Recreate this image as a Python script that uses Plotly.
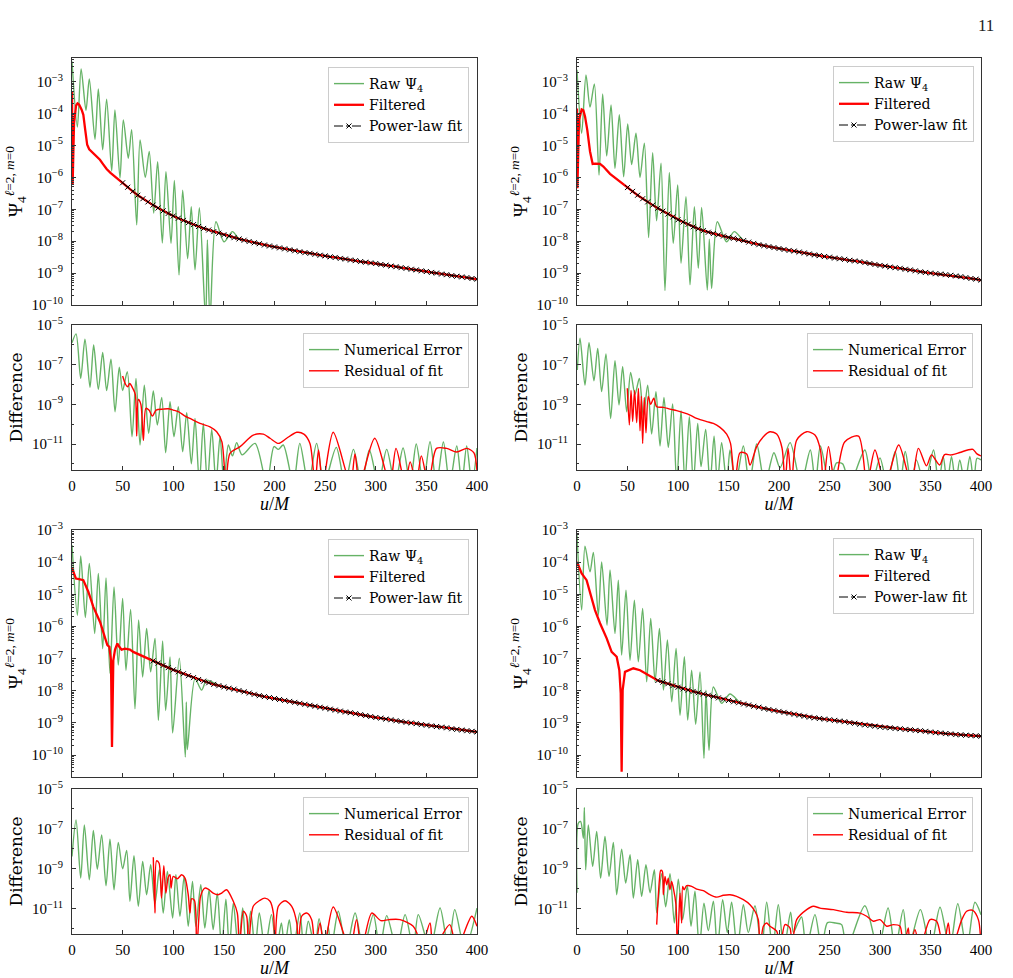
import plotly.graph_objects as go

W, H = 1013, 978

# ---- data (y values are log10 of the curve) ----
fit_u_a = list(range(50, 405, 5))
fit_u_b = list(range(80, 405, 5))

# top-left panel
raw_tl = [(0, -2.37), (5.3, -4.42), (9.0, -2.60), (13.8, -3.9), (17.1, -2.92), (22.7, -4.81),
          (26.0, -3.23), (30.3, -5.14), (34.2, -3.55), (39.2, -5.80), (42.4, -3.89), (47.4, -6.02),
          (50.7, -4.20), (55.6, -5.4), (58.9, -4.51), (63.9, -7.49), (67.2, -4.83), (72.4, -6.0),
          (76.3, -5.19), (80.7, -7.12), (84.6, -5.51), (89.2, -8.06), (92.8, -5.82), (97.8, -8.07),
          (101.1, -6.10), (105.7, -9.06), (109.3, -6.40), (114.2, -8.55), (117.8, -6.92), (121.5, -8.90),
          (125.8, -6.95), (132.0, -10.5), (133.7, -7.96), (136.3, -10.5), (142.2, -7.39), (150.1, -8.02),
          (158.4, -7.70), (165, -7.93)]
filt_tl = [(0, -3.31), (0.6, -6.24), (2.0, -4.30), (4.0, -3.75), (5.4, -3.68), (7.0, -3.72),
           (9.5, -3.88), (11.2, -4.04), (13.0, -4.50), (15.0, -4.98), (17.0, -5.12), (20.0, -5.22),
           (22.7, -5.30), (27.6, -5.45), (31.0, -5.60), (34.2, -5.74), (38.0, -5.86), (42.4, -5.98),
           (46.0, -6.07)]
fit_tl = [-6.17, -6.31, -6.44, -6.56, -6.67, -6.77, -6.87, -6.96, -7.05, -7.13,
          -7.21, -7.28, -7.35, -7.42, -7.48, -7.54, -7.60, -7.65, -7.70, -7.75,
          -7.80, -7.84, -7.89, -7.93, -7.97, -8.01, -8.05, -8.08, -8.12, -8.15,
          -8.18, -8.21, -8.24, -8.27, -8.30, -8.33, -8.36, -8.38, -8.41, -8.44,
          -8.46, -8.49, -8.51, -8.54, -8.56, -8.59, -8.61, -8.64, -8.66, -8.68,
          -8.70, -8.73, -8.75, -8.78, -8.80, -8.83, -8.85, -8.88, -8.90, -8.93,
          -8.95, -8.98, -9.00, -9.03, -9.05, -9.08, -9.10, -9.12, -9.14, -9.17,
          -9.19]
err_tl = [(0, -5.9), (4, -5.45), (8.6, -7.69), (12.8, -5.72), (17.8, -8.14), (21.4, -6.01),
          (26, -8.24), (30.3, -6.39), (34.2, -8.31), (38.5, -6.73), (42.5, -9.37), (46.7, -7.13),
          (50, -8.3), (54.6, -7.35), (59.3, -10.63), (63.2, -7.69), (67.2, -11.05), (71.4, -8.03),
          (75.7, -10.46), (80.3, -8.33), (84.3, -10.04), (88.6, -8.65), (92.5, -11.44), (96.8, -8.87),
          (100.7, -10.63), (105, -9.12), (109.3, -11.39), (113.3, -9.42), (117.9, -12.0), (121.5, -9.71),
          (125.8, -13), (129.7, -9.96), (133.7, -13), (138, -10.26), (142.2, -13), (146.2, -10.63),
          (150.1, -13), (154.4, -11.05), (158.5, -11.6), (162.6, -10.93), (168, -11.55), (180.8, -10.97),
          (192.3, -13), (199.5, -11.13), (203.8, -11.27), (208.7, -11.05), (218.6, -13), (225, -10.97),
          (233.4, -13), (241.6, -10.97), (249, -13), (261, -11.17), (269.6, -13), (278, -11.27),
          (286, -13), (293.7, -11.3), (302.6, -13), (310.8, -11.27), (319, -13), (327, -11.2),
          (334, -13), (340, -11.0), (347, -13), (353.6, -10.88), (360, -13), (366.8, -10.9),
          (373, -13), (380, -11.1), (385, -13), (389.8, -11.1), (395, -13), (400, -11.2)]
res_tl = [(50, -7.57), (53, -8.0), (55, -8.11), (57, -7.95), (60, -8.19), (62.5, -8.5),
          (63.9, -10.6), (65.5, -8.75), (68, -9.0), (70.5, -10.83), (73, -9.2), (76, -9.29),
          (79.5, -9.59), (83, -9.29), (90, -9.24), (95, -9.22), (100, -9.29), (105, -9.37),
          (111.6, -9.59), (116.5, -9.71), (126.4, -9.96), (136.3, -10.13), (142.9, -10.38), (148, -10.88),
          (152, -13), (156, -11.47), (166, -11.13), (179, -10.55), (189, -10.50), (195.6, -10.71),
          (204, -10.97), (212, -10.71), (222, -10.41), (229, -10.5), (235, -10.97), (240, -13),
          (243.5, -11.3), (247.6, -13), (258, -10.41), (275, -13), (279.5, -11.5), (284, -13),
          (299, -10.71), (314, -13), (320, -11.22), (329, -13), (334, -11.9), (340, -13),
          (345, -11.6), (352, -13), (360, -11.22), (370, -11.22), (380, -11.4), (390, -11.22),
          (397, -11.45), (400, -12.4)]

# top-right panel
raw_tr = [(0, -2.63), (4.6, -4.62), (8.9, -2.79), (12.9, -3.8), (17.2, -3.07), (21.8, -5.93),
          (25.4, -3.39), (29.4, -5.33), (33.7, -3.73), (37.6, -5.72), (41.9, -4.04), (46.2, -5.98),
          (50.2, -4.33), (54.1, -5.6), (58.4, -4.62), (62.4, -6.0), (66.7, -4.93), (70.9, -7.89),
          (74.9, -5.23), (78.8, -7.36), (83.2, -5.56), (87.1, -9.55), (91.4, -5.85), (95.3, -8.07),
          (99.7, -6.24), (103, -8.69), (107.9, -6.61), (111.9, -9.37), (116.2, -6.92), (120.1, -8.85),
          (123.4, -6.94), (129, -9.53), (131, -7.94), (133.3, -9.48), (138.9, -7.39), (148.1, -8.02),
          (155.7, -7.70), (165, -7.98)]
filt_tr = [(0, -3.84), (0.4, -6.34), (2.0, -4.2), (4.6, -3.87), (6.3, -3.90), (8.0, -4.1),
           (10.2, -4.52), (12.9, -5.19), (15.5, -5.58), (18, -5.57), (22.8, -5.58), (26.1, -5.66),
           (32.7, -5.89), (39.3, -6.06), (45, -6.20)]
fit_tr = [-6.32, -6.44, -6.56, -6.67, -6.77, -6.87, -6.97, -7.06, -7.15, -7.24,
          -7.33, -7.40, -7.47, -7.55, -7.61, -7.67, -7.72, -7.76, -7.80, -7.84,
          -7.88, -7.91, -7.95, -7.98, -8.03, -8.07, -8.11, -8.14, -8.17, -8.20,
          -8.23, -8.26, -8.29, -8.31, -8.34, -8.37, -8.40, -8.43, -8.45, -8.48,
          -8.50, -8.53, -8.55, -8.57, -8.60, -8.62, -8.64, -8.67, -8.70, -8.73,
          -8.76, -8.78, -8.81, -8.83, -8.85, -8.88, -8.90, -8.93, -8.96, -8.98,
          -9.00, -9.02, -9.03, -9.05, -9.07, -9.09, -9.11, -9.14, -9.17, -9.19,
          -9.22]
err_tr = [(0.3, -7.27), (3, -5.67), (7.9, -8.03), (11.9, -5.89), (16.8, -7.81), (20.5, -6.18),
          (24.4, -8.36), (28.7, -6.46), (33.3, -9.71), (37.6, -6.80), (41.6, -9.03), (45.2, -7.10),
          (49.2, -9.37), (53.1, -7.39), (57.4, -8.5), (61.7, -7.69), (65.7, -9.6), (70, -8.03),
          (73.9, -10.5), (78.2, -8.36), (82.2, -11.1), (86.1, -8.65), (90.4, -11.17), (94.7, -8.98),
          (98.7, -13), (103, -9.32), (106.9, -13), (111.2, -9.62), (115.2, -13), (119.5, -9.96),
          (122.8, -12.14), (127.4, -10.26), (131.7, -13), (135.7, -10.6), (139, -13), (143.2, -10.93),
          (148.2, -13), (151.5, -11.3), (157, -13), (164.7, -11.1), (170.6, -13), (177.9, -11.0),
          (186, -13), (195, -11.44), (201, -12.2), (211, -10.93), (221.8, -13), (231, -11.3),
          (236, -13), (241, -11.1), (250, -13), (257, -11.95), (263, -12.0), (270, -13),
          (285, -11.3), (292, -13), (300, -11.7), (307, -13), (315, -11.38), (320, -13),
          (325, -11.38), (331, -13), (336, -11.8), (344, -13), (353, -11.3), (358, -13),
          (362.6, -11.63), (366.5, -13), (370.8, -11.63), (375, -13), (379, -11.8), (384, -13),
          (389, -11.63), (393, -13), (396, -11.72), (400, -11.8)]
res_tr = [(49.8, -8.19), (51.8, -10.04), (53.5, -8.3), (55.1, -9.87), (57, -8.3), (59.1, -9.92),
          (60.8, -8.2), (62.4, -10.33), (63.7, -8.6), (65, -10.97), (66.6, -8.65), (68.3, -10.43),
          (70.5, -8.6), (73, -9.0), (76, -8.69), (78.9, -9.12), (85.5, -9.15), (92, -9.24),
          (98.7, -9.32), (105.3, -9.42), (111.9, -9.54), (118.5, -9.71), (128.4, -9.87), (135, -9.96),
          (141.6, -10.16), (148.2, -10.5), (152, -10.97), (156.4, -13), (161.4, -11.44), (168, -11.5),
          (171.3, -12.06), (177.9, -11.13), (184.5, -10.63), (191, -10.38), (197.7, -10.5), (203, -11.2),
          (206, -13), (209, -11.22), (212.5, -13), (217.5, -10.8), (227.4, -10.38), (235.6, -10.55),
          (241, -11.3), (244, -13), (249, -11.13), (255.4, -13), (265, -10.9), (278.7, -10.6),
          (287, -13), (295, -11.3), (305, -13), (318.5, -11.05), (331, -13), (338, -11.22),
          (346, -12.1), (351, -11.55), (359, -12.06), (364, -11.53), (370.5, -11.55), (379, -11.43),
          (386.8, -11.3), (392, -11.27), (396, -11.5), (400, -11.6)]

# bottom-left panel
raw_bl = [(0, -3.47), (5.3, -5.65), (8.6, -3.81), (13.2, -5.72), (17.1, -4.04), (22.4, -6.22),
          (26, -4.35), (30.3, -6.69), (33.6, -4.49), (37.5, -7.46), (41.5, -4.77), (45.7, -7.20),
          (50, -5.13), (53.3, -7.36), (57.9, -5.47), (62.2, -8.56), (65.8, -5.80), (69.8, -7.57),
          (73.7, -6.06), (77.7, -7.41), (82, -6.37), (85.3, -8.92), (89.5, -6.45), (92.5, -8.61),
          (96.8, -6.95), (99.4, -9.31), (106, -6.99), (111.9, -10.06), (112.9, -8.35), (113.9, -9.83),
          (121.5, -7.62), (128, -7.98), (133, -7.67), (142.9, -7.80)]
filt_bl = [(0, -4.19), (3.9, -4.51), (7, -4.53), (11.2, -4.56), (16.1, -4.92), (21.1, -5.39),
           (27.7, -5.86), (32.6, -6.37), (34.9, -6.58), (36.9, -6.63), (38.5, -7.05), (39.5, -9.75),
           (40.8, -7.05), (42.5, -6.72), (44.8, -6.53), (46.7, -6.63), (49, -6.72), (52.3, -6.69),
           (57.2, -6.72), (60.5, -6.79), (67.2, -6.89), (73.7, -6.98), (77, -7.03)]
fit_bl = [-7.07, -7.14, -7.21, -7.28, -7.35, -7.41, -7.47, -7.53, -7.59, -7.65,
          -7.70, -7.75, -7.80, -7.84, -7.88, -7.92, -7.95, -7.99, -8.03, -8.07,
          -8.11, -8.15, -8.18, -8.21, -8.24, -8.27, -8.30, -8.33, -8.36, -8.39,
          -8.42, -8.45, -8.48, -8.51, -8.54, -8.57, -8.60, -8.63, -8.66, -8.68,
          -8.71, -8.74, -8.77, -8.80, -8.83, -8.85, -8.88, -8.90, -8.93, -8.95,
          -8.98, -9.00, -9.02, -9.05, -9.07, -9.09, -9.11, -9.13, -9.15, -9.18,
          -9.20, -9.22, -9.24, -9.26, -9.28]
err_bl = [(0, -8.38), (4, -6.55), (8.6, -9.47), (12.2, -6.8), (17.1, -9.55), (21.1, -7.08),
          (25, -9.02), (29.3, -7.30), (33.6, -9.85), (37.5, -7.52), (41.5, -10.05), (45.7, -7.68),
          (50, -9.0), (54, -8.08), (57.2, -10.63), (61.2, -8.35), (65.5, -10.88), (69.8, -8.63),
          (73.7, -10.3), (77.7, -8.8), (81.9, -10.75), (86.3, -9.05), (90.1, -11.22), (94.2, -9.13),
          (99.4, -11.47), (102.6, -9.3), (106.6, -11.38), (110.8, -9.38), (114.8, -11.88), (119, -9.63),
          (122.3, -11.88), (127.2, -9.8), (131.2, -11.97), (135.4, -10.05), (139.4, -12.05), (143.5, -10.22),
          (147.8, -13), (152, -10.52), (155.4, -13), (159.3, -10.72), (164.3, -13), (168.6, -10.97),
          (171.9, -13), (176.5, -11.13), (180.8, -13), (185, -11.22), (190.6, -13), (197, -11.3),
          (202, -13), (206.8, -11.72), (210, -13), (214.6, -11.55), (218.6, -13), (225, -11.22),
          (229, -13), (233.4, -11.63), (240, -13), (244, -11.5), (249.9, -13), (253, -11.9),
          (256, -13), (263, -11.13), (271, -13), (279.6, -11.22), (287.8, -13), (297.6, -11.3),
          (304, -13), (310.8, -11.35), (320.7, -13), (329, -11.3), (337, -13), (342, -11.3),
          (353.6, -13), (363.5, -10.97), (371.7, -13), (378, -11.05), (388, -13), (400, -10.97)]
res_bl = [(80.3, -8.42), (81.9, -11.22), (83.5, -8.6), (86, -8.72), (88.4, -10.47), (90.7, -8.85),
          (92.7, -10.22), (95, -9.42), (96.8, -9.3), (97.8, -9.97), (100, -9.38), (104, -9.5),
          (108.3, -9.3), (111.6, -9.47), (114.8, -10.3), (116.5, -11.22), (118.2, -10.5), (121, -10.6),
          (123.1, -13), (125.4, -11.38), (127, -10.38), (131.2, -9.97), (134.5, -10.02), (139.4, -10.22),
          (144.4, -10.3), (147.8, -10.22), (152.7, -10.05), (159.3, -10.63), (163.3, -11.22), (165.3, -13),
          (169.3, -11.13), (172.5, -11.38), (174.2, -13), (179, -10.88), (185.6, -10.58), (190.5, -10.47),
          (195.6, -10.63), (198.9, -11.22), (200.5, -13), (203.8, -10.88), (210.4, -10.6), (217, -10.88),
          (222, -11.72), (223.6, -13), (226.8, -11.38), (231.8, -11.22), (236.7, -11.55), (240, -13),
          (245, -11.72), (249, -13), (258, -10.92), (274.6, -13), (281, -11.55), (286, -13),
          (296, -11.22), (305, -11.6), (313, -11.55), (324, -11.55), (337, -11.88), (340.4, -12.2),
          (345, -13), (353.6, -11.72), (357, -13), (373, -11.8), (380, -13), (394.8, -11.38),
          (400, -11.88)]

# bottom-right panel
raw_br = [(0, -3.16), (4.6, -5.49), (7.9, -3.50), (12.9, -4.3), (16.2, -3.70), (21.1, -5.65),
          (24.4, -3.99), (29.7, -5.96), (32.7, -4.24), (37.6, -6.22), (40.9, -4.56), (44.2, -6.89),
          (48.5, -4.87), (52.5, -7.05), (56.8, -5.18), (60.7, -7.1), (65, -5.44), (69, -7.72),
          (73, -5.75), (77.3, -7.72), (81.6, -6.06), (85.6, -7.98), (89.5, -6.42), (93.8, -8.34),
          (98.1, -6.68), (102, -8.76), (106.3, -6.94), (109.6, -8.91), (113.5, -7.36), (117.5, -9.04),
          (121.8, -7.41), (125.7, -10.1), (127.7, -7.98), (130.7, -9.85), (135, -7.88), (143.2, -8.39),
          (151.5, -8.1), (161.4, -8.37)]
filt_br = [(0, -3.99), (4.6, -4.35), (9.5, -4.56), (12.9, -4.92), (17.8, -5.49), (22.8, -5.90),
           (29.4, -6.37), (34.3, -6.79), (39.3, -6.94), (41.9, -7.36), (43.3, -8.08), (44.2, -10.52),
           (45.2, -7.98), (47.5, -7.41), (50.8, -7.36), (55.8, -7.30), (62.4, -7.36), (69, -7.48),
           (75, -7.60)]
fit_br = [-7.68, -7.73, -7.78, -7.84, -7.89, -7.94, -7.98, -8.02, -8.06, -8.10,
          -8.14, -8.18, -8.22, -8.26, -8.30, -8.34, -8.37, -8.41, -8.44, -8.48,
          -8.51, -8.55, -8.58, -8.61, -8.64, -8.67, -8.70, -8.73, -8.76, -8.79,
          -8.82, -8.84, -8.86, -8.88, -8.90, -8.92, -8.94, -8.96, -8.99, -9.01,
          -9.04, -9.06, -9.08, -9.10, -9.12, -9.14, -9.15, -9.17, -9.18, -9.20,
          -9.21, -9.23, -9.24, -9.26, -9.28, -9.30, -9.31, -9.33, -9.34, -9.36,
          -9.37, -9.38, -9.39, -9.40, -9.41]
err_br = [(0, -10.2), (1.3, -6.72), (3.6, -6.63), (6.3, -7.47), (7.3, -5.92), (8.6, -9.05),
          (11.2, -6.8), (15.5, -8.88), (19.5, -7.13), (23.4, -9.47), (27.7, -7.38), (31.7, -9.38),
          (36, -7.68), (39.3, -10.3), (44.2, -8.02), (48.2, -9.72), (52.5, -8.3), (55.8, -10.47),
          (60.1, -8.55), (64, -10.38), (68.3, -8.8), (72.3, -10.2), (76.6, -9.05), (78.9, -11.2),
          (83.8, -9.25), (87.8, -10.9), (92.1, -9.25), (96.4, -11.72), (100.3, -9.52), (104.6, -11.55),
          (109.2, -9.85), (112.9, -11.88), (116.8, -10.13), (121.1, -13), (125.7, -10.72), (130, -12.1),
          (135, -10.63), (139, -13), (144.2, -10.55), (148.8, -12.2), (153.1, -10.68), (158.7, -13),
          (164.7, -10.8), (169.6, -12.2), (176.2, -10.85), (182.8, -13), (187.8, -10.68), (193.7, -13),
          (199.3, -10.8), (204.9, -13), (211.5, -11.18), (214.2, -12.2), (218, -11.8), (222.4, -11.42),
          (227, -13), (235.6, -11.3), (242.2, -13), (248, -11.7), (256, -11.72), (262, -11.8),
          (267, -13), (285, -10.85), (298, -13), (308, -10.97), (315, -13), (323, -11.05),
          (328, -13), (340, -11.05), (350, -13), (359.4, -10.93), (369, -13), (377, -10.75),
          (385.8, -13), (394, -10.68), (400, -11.3)]
res_br = [(78.9, -11.8), (81.6, -9.55), (82.9, -9.08), (84.5, -9.13), (85.5, -10.3), (87.1, -9.38),
          (88.8, -9.8), (90.4, -9.47), (92, -10.05), (93.7, -9.63), (95.4, -9.97), (98, -10.8),
          (99.3, -13), (101, -11.22), (102, -10.22), (103.6, -11.72), (104.6, -9.88), (106, -10.05),
          (108.6, -9.85), (113.5, -9.88), (118.5, -10.02), (125.1, -10.1), (131.7, -10.3), (138.3, -10.42),
          (144.9, -10.33), (151.5, -10.3), (158, -10.38), (164.7, -10.55), (171.3, -10.8), (176.2, -11.13),
          (179.5, -11.55), (181.2, -13), (184.5, -11.88), (187.8, -11.72), (191, -11.88), (197.7, -12.13),
          (201, -13), (205.9, -11.8), (210.9, -11.97), (212.5, -13), (217.5, -11.55), (227.4, -11.05),
          (234, -10.88), (240.6, -10.97), (253.8, -11.05), (267, -11.18), (280.2, -11.22), (286.8, -11.38),
          (293.4, -11.63), (300, -11.55), (306.6, -11.88), (313.2, -11.8), (319.8, -11.88), (323, -13),
          (328, -11.97), (329.7, -13), (334.6, -12.05), (339.6, -13), (349.5, -11.55), (356.1, -11.63),
          (362.7, -13), (367.6, -11.72), (371, -13), (381, -11.55), (385.8, -11.13), (391.8, -11.08),
          (397.4, -11.55), (400, -13)]

GREEN = "rgba(0,128,0,0.6)"
RED = "#ff0000"
SERIF = "DejaVu Serif"
MATH = "Liberation Serif"


def unzip(pairs):
    return [p[0] for p in pairs], [10 ** p[1] for p in pairs]


def refs(k):
    return ("x", "y", "legend") if k == 1 else ("x%d" % k, "y%d" % k, "legend%d" % k)


fig = go.Figure()


def add_panel(km, kd, raw, filt, fit_u, fit_lg, err, res):
    xm, ym, lm = refs(km)
    xd, yd, ld = refs(kd)
    fit_y = [10 ** v for v in fit_lg]
    ru, ry = unzip(raw)
    ru += [u for u in fit_u if u > raw[-1][0]]
    ry += [y for u, y in zip(fit_u, fit_y) if u > raw[-1][0]]
    fu, fy = unzip(filt)
    fig.add_trace(go.Scatter(x=ru, y=ry, mode="lines", name="Raw Ψ<sub>4</sub>",
                             line=dict(color=GREEN, width=1.4, shape="spline", smoothing=0.8),
                             xaxis=xm, yaxis=ym, legend=lm))
    fig.add_trace(go.Scatter(x=fu + fit_u, y=fy + fit_y, mode="lines", name="Filtered",
                             line=dict(color=RED, width=2.3), xaxis=xm, yaxis=ym, legend=lm))
    fig.add_trace(go.Scatter(x=fit_u, y=fit_y, mode="lines+markers", name="Power-law fit",
                             line=dict(color="black", width=1, dash="dashdot"),
                             marker=dict(symbol="x-thin", size=5, line=dict(width=1, color="black")),
                             xaxis=xm, yaxis=ym, legend=lm))
    eu, ey = unzip(err)
    su, sy = unzip(res)
    fig.add_trace(go.Scatter(x=eu, y=ey, mode="lines", name="Numerical Error",
                             line=dict(color=GREEN, width=1.4, shape="spline", smoothing=0.8),
                             xaxis=xd, yaxis=yd, legend=ld))
    fig.add_trace(go.Scatter(x=su, y=sy, mode="lines", name="Residual of fit",
                             line=dict(color=RED, width=1.4, shape="spline", smoothing=0.8),
                             xaxis=xd, yaxis=yd, legend=ld))


add_panel(1, 3, raw_tl, filt_tl, fit_u_a, fit_tl, err_tl, res_tl)
add_panel(2, 4, raw_tr, filt_tr, fit_u_a, fit_tr, err_tr, res_tr)
add_panel(5, 7, raw_bl, filt_bl, fit_u_b, fit_bl, err_bl, res_bl)
add_panel(6, 8, raw_br, filt_br, fit_u_b, fit_br, err_br, res_br)

cols = [(72, 477), (577, 981)]
rows = [(58, 305, "main", [-10, -2.26]), (325, 470, "diff", [-12.31, -5]),
        (530, 777, "main", [-10.68, -3]), (789, 934, "diff", [-12.27, -5])]
legend_pos = {"main": [(469, 67), (974, 66)], "diff": [(469, 333), (973, 333)]}

FRAME = "#333333"
layout = dict(width=W, height=H, margin=dict(l=0, r=0, t=0, b=0), autosize=False,
              paper_bgcolor="white", plot_bgcolor="white", showlegend=True)

for r, (top, bot, kind, yr) in enumerate(rows):
    for c, (left, right) in enumerate(cols):
        k = r * 2 + c + 1
        sfx = "" if k == 1 else str(k)
        xa = dict(domain=[left / W, right / W], range=[0, 400], anchor="y" + sfx,
                  showline=True, mirror=True, linecolor=FRAME, linewidth=1,
                  ticks="inside", ticklen=4, tickcolor=FRAME, tickvals=list(range(0, 401, 50)),
                  showgrid=False, zeroline=False, automargin=False,
                  tickfont=dict(family=MATH, size=15, color="black"))
        if kind == "diff":
            xa.update(showticklabels=True, ticklabelstandoff=2,
                      title=dict(text="<i>u</i>/<i>M</i>", standoff=4,
                                 font=dict(family=MATH, size=18, color="black")))
        else:
            xa.update(showticklabels=False)
        if kind == "main":
            exps = list(range(-10, -2))
            minor = [m * 10 ** e for e in range(-11, -2) for m in range(2, 10)]
            ytitle = dict(text="Ψ<sub>4</sub><sup><i>ℓ</i>=2, <i>m</i>=0</sup>", standoff=3,
                          font=dict(family=MATH, size=19, color="black"))
        else:
            exps = [-11, -9, -7, -5]
            minor = [10 ** e for e in (-12, -10, -8, -6)]
            ytitle = dict(text="Difference", standoff=5,
                          font=dict(family=SERIF, size=17, color="black"))
        ya = dict(domain=[1 - bot / H, 1 - top / H], type="log", range=yr, anchor="x" + sfx,
                  showline=True, mirror=True, linecolor=FRAME, linewidth=1,
                  ticks="inside", ticklen=4, tickcolor=FRAME,
                  tickvals=[10 ** e for e in exps],
                  ticktext=["10<sup>−%d</sup>" % -e for e in exps],
                  minor=dict(tickmode="array", tickvals=minor, ticks="inside", ticklen=2,
                             tickcolor=FRAME, showgrid=False),
                  showgrid=False, zeroline=False, automargin=False, ticklabelstandoff=5,
                  tickfont=dict(family=MATH, size=15, color="black"), title=ytitle)
        layout["xaxis" + sfx] = xa
        layout["yaxis" + sfx] = ya
        lx, ly = legend_pos[kind][c]
        ly += top - rows[r % 2][0]
        layout["legend" + sfx] = dict(x=lx / W, y=1 - ly / H, xanchor="right", yanchor="top",
                                      bgcolor="rgba(255,255,255,0.8)", bordercolor="#cccccc",
                                      borderwidth=1, tracegroupgap=0, itemwidth=30,
                                      font=dict(family=SERIF, size=14, color="black"))

layout["annotations"] = [dict(text="11", x=996 / W, y=1 - 14 / H, xref="paper", yref="paper",
                              showarrow=False, font=dict(family=MATH, size=17, color="#222222"))]
fig.update_layout(**layout)

# page body has a default margin; remove it so the figure sits at the window origin
fig.write_html("out.html", config={"displayModeBar": False},
               post_script="document.body.style.margin='0';document.body.style.overflow='hidden';")
